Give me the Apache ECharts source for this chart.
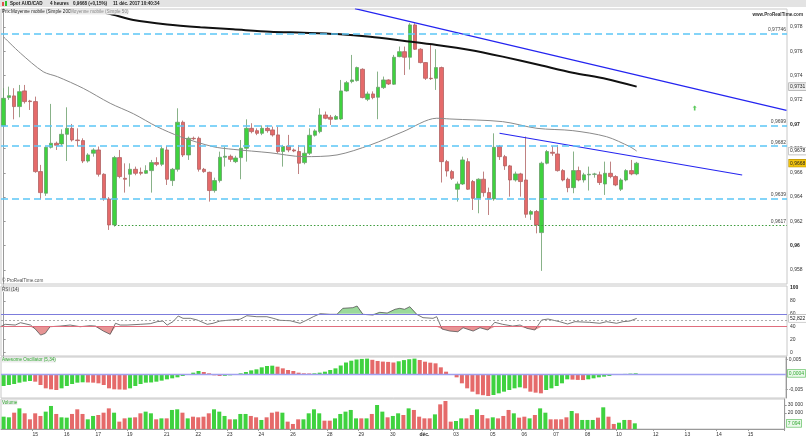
<!DOCTYPE html>
<html><head><meta charset="utf-8">
<script src="https://cdn.jsdelivr.net/npm/echarts@6/dist/echarts.min.js"></script>
<style>html,body{margin:0;padding:0;background:#fff}#c{width:806px;height:437px}</style>
</head><body><div id="c"></div>
<script>
// ---- DATA ----
// 4h candles: [open, high, low, close]
const candles = [
[0.96986,0.97296,0.96975,0.97213],[0.97219,0.97309,0.97200,0.97235],[0.97233,0.97296,0.97040,0.97145],[0.97145,0.97323,0.97057,0.97268],
[0.97274,0.97323,0.97170,0.97186],[0.97191,0.97200,0.97117,0.97186],[0.97186,0.97227,0.96600,0.96610],[0.96610,0.96665,0.96382,0.96437],
[0.96432,0.96816,0.96410,0.96810],[0.96810,0.97167,0.96800,0.96843],[0.96843,0.96857,0.96788,0.96827],[0.96838,0.96958,0.96820,0.96917],
[0.96917,0.97139,0.96697,0.96966],[0.96966,0.97002,0.96857,0.96870],[0.96870,0.96966,0.96816,0.96865],[0.96865,0.96884,0.96680,0.96697],
[0.96697,0.96761,0.96684,0.96747],[0.96761,0.96802,0.96733,0.96788],[0.96788,0.96816,0.96569,0.96588],[0.96588,0.96596,0.96370,0.96390],
[0.96385,0.96400,0.96130,0.96171],[0.96171,0.96739,0.96157,0.96725],[0.96725,0.96788,0.96555,0.96569],[0.96555,0.96678,0.96437,0.96547],
[0.96588,0.96678,0.96487,0.96629],[0.96629,0.96651,0.96580,0.96596],[0.96604,0.96643,0.96580,0.96596],[0.96596,0.96662,0.96590,0.96618],
[0.96618,0.96706,0.96437,0.96684],[0.96684,0.96728,0.96655,0.96670],[0.96670,0.96816,0.96655,0.96799],[0.96788,0.96821,0.96500,0.96547],
[0.96536,0.96640,0.96492,0.96629],[0.96629,0.97131,0.96610,0.97016],[0.97016,0.97030,0.96730,0.96747],[0.96747,0.96898,0.96706,0.96884],
[0.96884,0.96898,0.96870,0.96880],[0.96884,0.96898,0.96610,0.96629],[0.96629,0.96640,0.96600,0.96610],[0.96604,0.96610,0.96363,0.96454],
[0.96454,0.96560,0.96437,0.96536],[0.96536,0.96774,0.96520,0.96728],[0.96728,0.96816,0.96651,0.96736],[0.96736,0.96750,0.96690,0.96711],
[0.96692,0.96740,0.96680,0.96722],[0.96725,0.96870,0.96547,0.96802],[0.96802,0.97040,0.96692,0.96966],[0.96966,0.97008,0.96925,0.96939],
[0.96947,0.96966,0.96910,0.96925],[0.96925,0.96990,0.96910,0.96966],[0.96966,0.96990,0.96930,0.96947],[0.96953,0.96980,0.96898,0.96912],
[0.96912,0.96980,0.96760,0.96775],[0.96775,0.96830,0.96651,0.96816],[0.96821,0.96912,0.96770,0.96788],[0.96788,0.96800,0.96770,0.96780],
[0.96775,0.96829,0.96590,0.96679],[0.96684,0.96821,0.96670,0.96761],[0.96761,0.96966,0.96747,0.96909],[0.96909,0.96958,0.96898,0.96945],
[0.96939,0.97131,0.96925,0.97076],[0.97076,0.97104,0.97041,0.97049],[0.97057,0.97076,0.96994,0.97041],[0.97041,0.97076,0.97035,0.97063],
[0.97043,0.97364,0.97035,0.97274],[0.97274,0.97356,0.97268,0.97342],[0.97351,0.97570,0.97337,0.97364],[0.97359,0.97474,0.97351,0.97466],
[0.97452,0.97460,0.97213,0.97219],[0.97205,0.97268,0.97190,0.97249],[0.97249,0.97270,0.97205,0.97219],[0.97222,0.97433,0.97041,0.97304],
[0.97301,0.97392,0.97290,0.97364],[0.97364,0.97370,0.97323,0.97331],[0.97329,0.97570,0.97323,0.97551],[0.97556,0.97639,0.97551,0.97597],
[0.97597,0.97639,0.97405,0.97551],[0.97551,0.97831,0.97450,0.97817],[0.97817,0.97831,0.97611,0.97617],[0.97617,0.97625,0.97501,0.97507],
[0.97507,0.97510,0.97364,0.97378],[0.97378,0.97652,0.97364,0.97375],[0.97378,0.97617,0.97282,0.97466],[0.97466,0.97474,0.96520,0.96692],
[0.96692,0.96706,0.96569,0.96615],[0.96610,0.96624,0.96541,0.96555],[0.96465,0.96528,0.96363,0.96508],[0.96508,0.96733,0.96500,0.96706],
[0.96692,0.96720,0.96459,0.96465],[0.96528,0.96541,0.96294,0.96390],[0.96390,0.96555,0.96267,0.96547],[0.96547,0.96610,0.96404,0.96437],
[0.96437,0.96478,0.96253,0.96385],[0.96385,0.96925,0.96370,0.96810],[0.96816,0.96829,0.96706,0.96733],[0.96733,0.96747,0.96624,0.96657],
[0.96657,0.96665,0.96404,0.96541],[0.96541,0.96610,0.96528,0.96591],[0.96591,0.96600,0.96404,0.96528],[0.96541,0.96898,0.96230,0.96259],
[0.96259,0.96294,0.96212,0.96281],[0.96281,0.96294,0.96102,0.96171],[0.96108,0.96692,0.95793,0.96679],[0.96679,0.96788,0.96670,0.96775],
[0.96769,0.96821,0.96740,0.96761],[0.96755,0.96829,0.96610,0.96618],[0.96618,0.96630,0.96530,0.96541],[0.96547,0.96560,0.96440,0.96478],
[0.96478,0.96775,0.96432,0.96618],[0.96618,0.96651,0.96530,0.96541],[0.96541,0.96600,0.96520,0.96583],[0.96583,0.96651,0.96454,0.96588],
[0.96588,0.96600,0.96560,0.96590],[0.96583,0.96610,0.96500,0.96520],[0.96508,0.96692,0.96418,0.96596],[0.96596,0.96692,0.96555,0.96569],
[0.96569,0.96580,0.96490,0.96500],[0.96465,0.96555,0.96450,0.96541],[0.96541,0.96630,0.96530,0.96618],[0.96618,0.96706,0.96580,0.96591],
[0.96591,0.96690,0.96580,0.96679]
];
// moving averages: [candle index, value]
const ma200 = [[17,0.97923],[19.6,0.97913],[24.6,0.97858],[31,0.97821],[37.3,0.97798],[43.5,0.97781],[50.5,0.97761],[56.8,0.97753],[63.2,0.97742],[69.5,0.97720],[75.7,0.97687],[82.1,0.97652],[88.4,0.97611],[94.6,0.97556],[101.6,0.97487],[107.9,0.97424],[114.3,0.97372],[120,0.97309]];
const ma50 = [[0,0.97718],[3.2,0.97584],[7.5,0.97432],[10.2,0.97391],[15.1,0.97295],[20.2,0.97172],[24.6,0.97086],[29.1,0.96979],[33.5,0.96897],[39.7,0.96815],[43.5,0.96793],[50.5,0.96765],[56.8,0.96733],[63.2,0.96747],[69.5,0.96829],[75.7,0.96938],[82.1,0.97049],[84.6,0.97043],[94.6,0.97021],[101.1,0.96966],[107.9,0.96947],[114.3,0.96897],[118.7,0.96815],[120,0.96779]];
// RSI(14): [candle index, value]
const rsi = [[-0.6,40],[0.3,43.7],[2.2,42.6],[3.2,46.2],[5.1,42.6],[6,36.4],[7,27],[7.9,29.7],[8.8,40],[10.7,41],[12.6,42.6],[14.5,40],[16.4,41.6],[17.4,41],[18.9,33.3],[20.2,28.2],[21.2,45.3],[22.1,42.6],[23.4,42.6],[25.9,43.7],[27.8,44.7],[29.1,47.8],[30.2,48.8],[31,42.6],[32.1,47.8],[33.1,56.6],[34,53],[35.4,53],[36.7,50.4],[38.6,43.7],[39.7,45.3],[41,48.8],[43,50.4],[44.8,51.5],[46.1,57],[48,55.5],[49.9,55.5],[51.1,53],[52.4,49.9],[54.3,49.3],[56.2,45.3],[57.5,50.4],[58.7,55.5],[60,60.2],[61.9,59.2],[63.2,59.2],[64.3,68.5],[66.2,69.5],[67,72.1],[68.1,59.2],[70,58.1],[71.3,62.3],[72.7,61.2],[74.2,67],[75.1,68.5],[76,67],[77,71],[78.3,59.2],[79.5,54],[81.4,53],[82.1,55.5],[83.1,36.4],[84.6,33.3],[86.1,32.2],[87.1,38.4],[88.4,34.9],[89,33.3],[90.3,38.4],[91.8,34.9],[93.1,46.8],[94.6,43.7],[96.5,41],[97.9,42.6],[99.2,37.5],[100.7,34.9],[102,50.4],[103.2,51.9],[105.4,47.8],[106.9,44.2],[108.3,47.8],[111.1,46.8],[113,45.3],[114.3,47.8],[116.2,45.3],[117.4,47.8],[118.7,48.8],[120,52.822]];
// Awesome Oscillator (5,34), one value per candle
const ao = [-0.00383,-0.0035,-0.00317,-0.00272,-0.00239,-0.00216,-0.00239,-0.0035,-0.00461,-0.00494,-0.00516,-0.00461,-0.00383,-0.00317,-0.00272,-0.0026,-0.00265,-0.00272,-0.00294,-0.0035,
-0.00461,-0.00494,-0.005,-0.00505,-0.00461,-0.00383,-0.00317,-0.00272,-0.00265,-0.00239,-0.00205,-0.00161,-0.00128,-0.00094,-0.0005,-0.0001,0.00061,0.00116,0.00083,0.00039,
-0.00028,-0.0005,-0.00045,-0.00028,0.00006,0.00039,0.00083,0.00138,0.00172,0.00239,0.00283,0.00294,0.00261,0.00205,0.0015,0.00116,0.00061,0.00039,0.00035,0.00039,
0.00061,0.00094,0.0015,0.00205,0.003,0.004,0.0046,0.005,0.0052,0.0053,0.0049,0.0045,0.0043,0.0042,0.004,0.0044,0.0048,0.0051,0.0053,0.00483,
0.00427,0.00394,0.00372,0.00239,0.00094,-0.00017,-0.00094,-0.00294,-0.00461,-0.00572,-0.0066,-0.0069,-0.00716,-0.00683,-0.00628,-0.00572,-0.00516,-0.00461,-0.00427,-0.00461,
-0.00572,-0.00605,-0.00628,-0.00516,-0.00461,-0.00383,-0.00294,-0.00161,-0.0017,-0.0018,-0.00185,-0.00161,-0.00128,-0.00094,-0.00072,-0.0005,-0.00017,0.00006,0.0002,0.0003,
0.0004];
// Volume, one value per candle
const volume = [15400,14600,20400,25800,19600,12100,19600,16300,21700,28800,18800,14600,14200,18800,24600,18800,12100,16300,17500,20400,
25800,20400,9200,13300,14200,14600,19600,21700,19600,12100,13300,13300,23800,24600,20400,13300,15400,14600,15400,19600,
24600,21700,16300,12100,12100,18800,18800,16300,14600,11300,14600,20400,21700,20400,9200,6300,12100,12100,19600,24600,
19600,10400,10400,13300,18800,21700,23800,13300,13300,13300,18800,30000,21700,14600,16300,19600,17500,25800,23800,15400,
13300,13300,18300,30800,35000,9200,10000,13300,13300,17500,24600,17500,13300,14600,13300,16300,23800,19600,14200,15400,
13300,17500,25800,20400,12100,12100,12100,14600,22500,19600,11300,11300,11300,14200,27100,15400,6300,7900,11300,11300,
7094];
// axis tick labels
const priceTicks = [0.958,0.96,0.962,0.964,0.966,0.968,0.97,0.972,0.974,0.976,0.978];
const rsiTicks = [0,20,40,60,80,100];
const aoTicks = [-0.005,0.005];
const volTicks = [20000,30000];
const dayLabels = [[6,'15'],[12,'16'],[18,'17'],[24,'19'],[31,'21'],[37,'22'],[43,'23'],[49,'24'],[55,'26'],[62,'28'],[68,'29'],[74,'30'],[80,'déc.'],[86,'03'],[93,'05'],[99,'06'],[105,'07'],[111,'08'],[117,'10'],[124,'12'],[130,'13'],[136,'14'],[142,'15']];
// drawn levels / trendlines / notes
const levels = [0.97746,0.9699,0.9682,0.9639];
const levelLabels = ['0,97746','0,9699','0,9682','0,9639'];
const support = [21,0.9617,'0,9617'];
const trendUpper = [[66.6,0.97951],[148.4,0.97114]];
const trendLower = [[94,0.96925],[140,0.96582]];
const notes = [[91,0.96198,'E'],[113,0.96261,'E'],[101,0.95835,'T']];
const arrowUp = [[131,0.97133]];

// ---- CHART ----
const N = 149;
const slots = Array.from({length:N},(_,i)=>String(i));
const dayMap = Object.fromEntries(dayLabels);
const GREEN='#3fd23f', RED='#e56a6a';
const FONT='Liberation Sans';
const fmt=(v,d)=>v.toFixed(d).replace('.',',');
const last = candles[candles.length-1];
const tag=(text,bg,border,color)=>({show:true,position:'end',distance:2,formatter:text,backgroundColor:bg,borderColor:border,borderWidth:0.6,padding:[1,1],fontSize:5,fontFamily:FONT,color:color||'#222'});
const hidden={color:'rgba(0,0,0,0)',width:0};
const baseLabel={fontSize:5,fontFamily:FONT,color:'#333',margin:3};
const lvlLabel=(t)=>({show:true,position:'insideEndTop',distance:1,formatter:t,fontSize:5,fontFamily:FONT,color:'#444'});
const ML={symbol:['none','none'],silent:true,precision:8};

const option = {
  animation:false,
  backgroundColor:'#fff',
  grid:[
    {left:1,right:19,top:9,height:275,show:true,borderColor:'#c8c8c8',borderWidth:1},
    {left:1,right:19,top:286,height:70,show:true,borderColor:'#c8c8c8',borderWidth:1},
    {left:1,right:19,top:357,height:41,show:true,borderColor:'#c8c8c8',borderWidth:1},
    {left:1,right:19,top:399,height:30,show:true,borderColor:'#c8c8c8',borderWidth:1}
  ],
  xAxis:[
    {type:'category',gridIndex:0,data:slots,show:false},
    {type:'value',gridIndex:0,min:-0.5,max:N-0.5,show:false},
    {type:'value',gridIndex:1,min:-0.5,max:N-0.5,show:false},
    {type:'category',gridIndex:2,data:slots,show:false},
    {type:'category',gridIndex:3,data:slots,
      axisLine:{lineStyle:{color:'#999'}},
      axisTick:{show:true,length:2,interval:(i)=>i in dayMap,lineStyle:{color:'#999'}},
      axisLabel:{interval:(i)=>i in dayMap,fontSize:5,fontFamily:FONT,color:'#333',margin:3,
        formatter:(v,i)=>{const s=dayMap[i]||'';return s==='déc.'?'{b|'+s+'}':s;},
        rich:{b:{fontWeight:'bold',fontSize:5,fontFamily:FONT,color:'#222'}}}}
  ],
  yAxis:[
    {type:'value',gridIndex:0,position:'right',min:0.95685,max:0.97948,
      axisLine:{show:true,lineStyle:{color:'#999'}},splitLine:{show:false},
      axisTick:{show:true,length:2,customValues:priceTicks,lineStyle:{color:'#999'}},
      axisLabel:Object.assign({},baseLabel,{customValues:priceTicks,
        formatter:(v)=>{const s=String(+v.toFixed(3)).replace('.',',');return (s.length<=4)?'{b|'+s+'}':s;},
        rich:{b:{fontWeight:'bold',fontSize:5,fontFamily:FONT,color:'#222'}}})},
    {type:'value',gridIndex:1,position:'right',min:-5.4,max:103.1,
      axisLine:{show:true,lineStyle:{color:'#999'}},splitLine:{show:false},
      axisTick:{show:true,length:2,customValues:rsiTicks,lineStyle:{color:'#999'}},
      axisLabel:Object.assign({},baseLabel,{customValues:rsiTicks,formatter:(v)=>v===100?'{b|100}':String(v),rich:{b:{fontWeight:'bold',fontSize:5,fontFamily:FONT,color:'#222'}}})},
    {type:'value',gridIndex:2,position:'right',min:-0.007833,max:0.005833,
      axisLine:{show:true,lineStyle:{color:'#999'}},splitLine:{show:false},
      axisTick:{show:true,length:2,customValues:aoTicks,lineStyle:{color:'#999'}},
      axisLabel:Object.assign({},baseLabel,{customValues:aoTicks,formatter:(v)=>fmt(v,3)})},
    {type:'value',gridIndex:3,position:'right',min:0,max:37500,
      axisLine:{show:true,lineStyle:{color:'#999'}},splitLine:{show:false},
      axisTick:{show:true,length:2,customValues:volTicks,lineStyle:{color:'#999'}},
      axisLabel:Object.assign({},baseLabel,{customValues:volTicks,formatter:(v)=>String(v).replace(/\B(?=(\d{3})+$)/g,' ')})}
  ],
  series:[
    {type:'candlestick',xAxisIndex:0,yAxisIndex:0,barWidth:4,
      data:candles.map(([o,h,l,c])=>[o,c,l,h]),
      itemStyle:{color:GREEN,color0:RED,borderColor:'#6a9e6a',borderColor0:'#b06262',borderWidth:0.8}},
    {type:'line',name:'MA200',xAxisIndex:1,yAxisIndex:0,data:ma200,smooth:0.3,showSymbol:false,
      lineStyle:{color:'#111',width:2},
      markLine:Object.assign({},ML,{data:[{yAxis:ma200[ma200.length-1][1],lineStyle:hidden,label:tag(fmt(ma200[ma200.length-1][1],4),'#eee','#999')}]})},
    {type:'line',name:'MA50',xAxisIndex:1,yAxisIndex:0,data:ma50,smooth:0.3,showSymbol:false,
      lineStyle:{color:'#8a8a8a',width:1},
      markLine:Object.assign({},ML,{data:[{yAxis:ma50[ma50.length-1][1],lineStyle:hidden,label:tag(fmt(ma50[ma50.length-1][1],4),'#fff','#aaa')}]})},
    {type:'line',xAxisIndex:1,yAxisIndex:0,data:trendUpper,showSymbol:false,lineStyle:{color:'#2424f0',width:1.1},
      markLine:Object.assign({},ML,{
        data:[
          ...levels.map((v,i)=>({yAxis:v,lineStyle:{color:'#5cc6f6',width:1.6,type:[7,4]},label:lvlLabel(levelLabels[i])})),
          [{coord:[support[0],support[1]],lineStyle:{color:'#3a9a3a',width:1,type:[1.5,2]},label:lvlLabel(support[2])},
           {coord:[N-0.5,support[1]]}],
          {yAxis:last[3],lineStyle:hidden,label:tag(fmt(last[3],4),'#f2c40c','#b89000','#222')}
        ]})},
    {type:'line',xAxisIndex:1,yAxisIndex:0,data:trendLower,showSymbol:false,lineStyle:{color:'#2424f0',width:1.1}},
    {type:'scatter',xAxisIndex:1,yAxisIndex:0,data:notes,symbolSize:1,itemStyle:{opacity:0},
      label:{show:true,position:'inside',formatter:(p)=>p.data[2],color:'#3030f0',fontWeight:'bold',fontSize:6,fontFamily:FONT}},
    {type:'scatter',xAxisIndex:1,yAxisIndex:0,data:arrowUp,symbol:'path://M2,0 L4,2.4 L2.8,2.4 L2.8,6 L1.2,6 L1.2,2.4 L0,2.4 Z',symbolSize:[4,5],itemStyle:{color:'#33bb33'}},
    // RSI
    {type:'line',xAxisIndex:2,yAxisIndex:1,data:rsi.map(([x,v])=>[x,Math.max(v,60)]),showSymbol:false,
      lineStyle:{width:0},areaStyle:{origin:60,color:'#9ad99a',opacity:1},z:1},
    {type:'line',xAxisIndex:2,yAxisIndex:1,data:rsi.map(([x,v])=>[x,Math.min(v,40)]),showSymbol:false,
      lineStyle:{width:0},areaStyle:{origin:40,color:'#e79494',opacity:1},z:1},
    {type:'line',xAxisIndex:2,yAxisIndex:1,data:rsi,showSymbol:false,lineStyle:{color:'#555',width:0.8},z:3,
      markLine:Object.assign({},ML,{data:[
        {yAxis:60,lineStyle:{color:'#7c7cdc',width:1,type:'solid'},label:{show:false}},
        {yAxis:40,lineStyle:{color:'#e06e7e',width:1,type:'solid'},label:{show:false}},
        {yAxis:50,lineStyle:{color:'#999',width:0.8,type:[2,2]},label:{show:false}},
        {yAxis:rsi[rsi.length-1][1],lineStyle:hidden,label:tag(fmt(rsi[rsi.length-1][1],3),'#fff','#aaa')}
      ]})},
    // Awesome oscillator
    {type:'bar',xAxisIndex:3,yAxisIndex:2,barWidth:4,
      data:ao.map((v,i)=>({value:v,itemStyle:{color:(i===0||v>=ao[i-1])?GREEN:RED}})),
      markLine:Object.assign({},ML,{data:[
        {yAxis:0,lineStyle:{color:'#a0a0f0',width:1.4,type:'solid'},label:{show:false}},
        {yAxis:ao[ao.length-1],lineStyle:hidden,label:tag(fmt(ao[ao.length-1],4),'#eaf8ea','#5b5','#3a3')}
      ]})},
    // Volume
    {type:'bar',xAxisIndex:4,yAxisIndex:3,barWidth:4,
      data:volume.map((v,i)=>({value:v,itemStyle:{color:candles[i][3]>=candles[i][0]?GREEN:RED}})),
      markLine:Object.assign({},ML,{data:[
        {yAxis:volume[volume.length-1],lineStyle:hidden,label:tag(String(volume[volume.length-1]).replace(/\B(?=(\d{3})+$)/g,' '),'#eaf8ea','#5b5','#3a3')}
      ]})}
  ],
  graphic:[
    {type:'rect',shape:{x:0,y:0,width:806,height:7},style:{fill:'#e3e3e3'},z:100},
    {type:'rect',shape:{x:2,y:2,width:2,height:4},style:{fill:'#e05050'},z:101},
    {type:'rect',shape:{x:5,y:1,width:2,height:5},style:{fill:'#30c030'},z:101},
    {type:'text',x:10,y:3.6,style:{text:'Spot AUD/CAD',font:'bold 4.6px '+FONT,fill:'#222',verticalAlign:'middle'},z:101},
    {type:'text',x:50,y:3.6,style:{text:'4 heures',font:'bold 4.6px '+FONT,fill:'#222',verticalAlign:'middle'},z:101},
    {type:'text',x:73,y:3.6,style:{text:'0,9668 (+0,15%)',font:'bold 4.6px '+FONT,fill:'#222',verticalAlign:'middle'},z:101},
    {type:'text',x:113,y:3.6,style:{text:'11 déc. 2017 10:40:34',font:'bold 4.6px '+FONT,fill:'#222',verticalAlign:'middle'},z:101},
    {type:'text',x:2,y:12,style:{text:'Prix:',font:'4.6px '+FONT,fill:'#222',verticalAlign:'middle'},z:101},
    {type:'text',x:11,y:12,style:{text:'Moyenne mobile (Simple 200)',font:'4.6px '+FONT,fill:'#222',verticalAlign:'middle',backgroundColor:'#f4f4f4'},z:101},
    {type:'text',x:70,y:12,style:{text:'Moyenne mobile (Simple 50)',font:'4.6px '+FONT,fill:'#888',verticalAlign:'middle',backgroundColor:'#ececec'},z:101},
    {type:'text',x:803,y:14.5,style:{text:'www.ProRealTime.com',font:'bold 4.6px '+FONT,fill:'#333',align:'right',verticalAlign:'middle'},z:101},
    {type:'text',x:2,y:281,style:{text:'© ProRealTime.com',font:'4.6px '+FONT,fill:'#555',verticalAlign:'middle'},z:101},
    {type:'text',x:2,y:289.5,style:{text:'RSI (14)',font:'4.6px '+FONT,fill:'#444',verticalAlign:'middle',backgroundColor:'#ececec'},z:101},
    {type:'text',x:2,y:360,style:{text:'Awesome Oscillator (5,34)',font:'4.6px '+FONT,fill:'#3a3',verticalAlign:'middle',backgroundColor:'#ececec'},z:101},
    {type:'text',x:2,y:402.5,style:{text:'Volume',font:'4.6px '+FONT,fill:'#3a3',verticalAlign:'middle',backgroundColor:'#ececec'},z:101}
  ]
};
const chart = echarts.init(document.getElementById('c'),null,{renderer:'canvas'});
chart.setOption(option);
</script></body></html>
